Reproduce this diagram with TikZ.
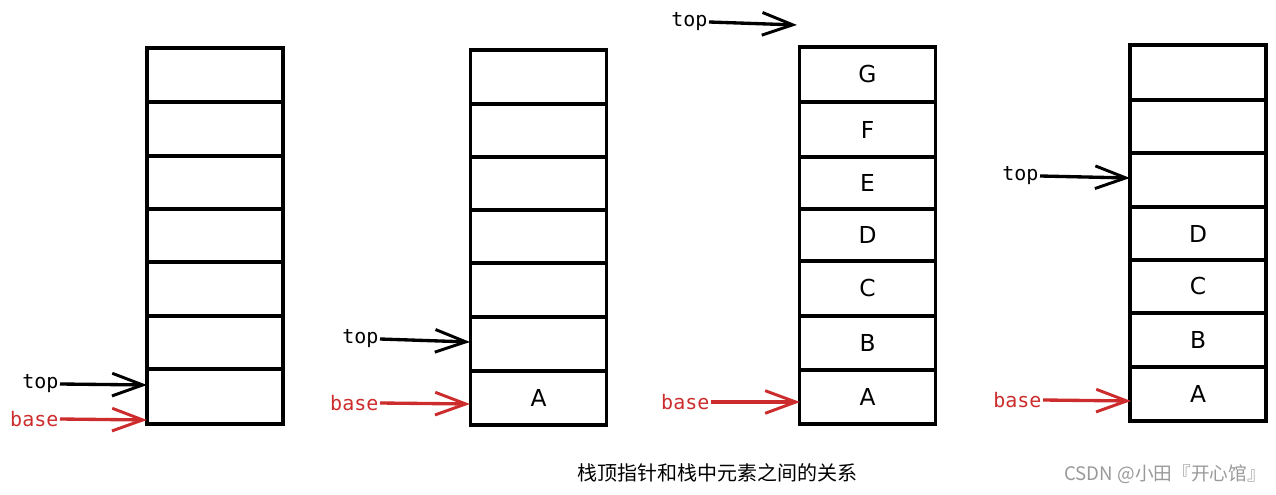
\documentclass[tikz,border=0pt]{standalone}
\usepackage{fontspec}
\usetikzlibrary{arrows.meta}
\newfontfamily\monof{DejaVu Sans Mono}
\newfontfamily\letf{DejaVu Sans}
\newfontfamily\cjkf{Noto Sans CJK SC}
\definecolor{basered}{RGB}{204,44,44}
\tikzset{
  cell/.style={draw=black, line width=2.8pt, inner sep=0pt, minimum width=102pt, font=\letf\fontsize{17.5}{20}\selectfont},
  ptrlabel/.style={anchor=east, inner sep=1pt, font=\monof\fontsize{15}{17}\selectfont},
  ptr/.style={line width=2.5pt, -{Straight Barb[length=23pt, width=17pt, line width=2.2pt]}},
  topptr/.style={ptr, black},
  baseptr/.style={ptr, basered},
}
\newcommand\stackcell[6]{%
  \node[cell, minimum height={(#5-#4)*0.75pt}] (#1) at (#3,{(#4+#5)/2}) {#6};}
\begin{document}
\begin{tikzpicture}[x=0.75pt, y=-0.75pt]
\useasboundingbox (0,0) rectangle (1276,495);
% stack 1
\stackcell{sa1}{}{215}{48}{102}{}
\stackcell{sa2}{}{215}{102}{156}{}
\stackcell{sa3}{}{215}{156}{209}{}
\stackcell{sa4}{}{215}{209}{262}{}
\stackcell{sa5}{}{215}{262}{316}{}
\stackcell{sa6}{}{215}{316}{369}{}
\stackcell{sa7}{}{215}{369}{424}{}
% stack 2
\stackcell{sb1}{}{538.5}{50}{104}{}
\stackcell{sb2}{}{538.5}{104}{157}{}
\stackcell{sb3}{}{538.5}{157}{210}{}
\stackcell{sb4}{}{538.5}{210}{263}{}
\stackcell{sb5}{}{538.5}{263}{317}{}
\stackcell{sb6}{}{538.5}{317}{371}{}
\stackcell{sb7}{}{538.5}{371}{425}{A}
% stack 3
\stackcell{sc1}{}{867.5}{47}{102}{G}
\stackcell{sc2}{}{867.5}{102}{157}{F}
\stackcell{sc3}{}{867.5}{157}{209}{E}
\stackcell{sc4}{}{867.5}{209}{261}{D}
\stackcell{sc5}{}{867.5}{261}{316}{C}
\stackcell{sc6}{}{867.5}{316}{370}{B}
\stackcell{sc7}{}{867.5}{370}{424}{A}
% stack 4
\stackcell{sd1}{}{1198}{45}{100}{}
\stackcell{sd2}{}{1198}{100}{153}{}
\stackcell{sd3}{}{1198}{153}{207}{}
\stackcell{sd4}{}{1198}{207}{260}{D}
\stackcell{sd5}{}{1198}{260}{313}{C}
\stackcell{sd6}{}{1198}{313}{367}{B}
\stackcell{sd7}{}{1198}{367}{421}{A}
% pointer labels
\node[ptrlabel] (ta) at (60,384) {top};
\node[ptrlabel, text=basered] (ba) at (60,419) {base};
\node[ptrlabel] (tb) at (380,339) {top};
\node[ptrlabel, text=basered] (bb) at (380,403) {base};
\node[ptrlabel] (tc) at (709,22) {top};
\node[ptrlabel, text=basered] (bc) at (711,402) {base};
\node[ptrlabel] (td) at (1040,176) {top};
\node[ptrlabel, text=basered] (bd) at (1043,400) {base};
% pointer targets
\coordinate (tae) at (147,385);
\coordinate (bae) at (147,420);
\coordinate (tbe) at (470,342);
\coordinate (bbe) at (470,404);
\coordinate (tce) at (797,25);
\coordinate (bce) at (800,402);
\coordinate (tde) at (1130,178);
\coordinate (bde) at (1131,401);
\draw[topptr] (ta.east) -- (tae);
\draw[baseptr] (ba.east) -- (bae);
\draw[topptr] (tb.east) -- (tbe);
\draw[baseptr] (bb.east) -- (bbe);
\draw[topptr] (tc.east) -- (tce);
\draw[baseptr] (bc.east) -- (bce);
\draw[topptr] (td.east) -- (tde);
\draw[baseptr] (bd.east) -- (bde);
% caption and watermark
\node[font=\cjkf\fontsize{15}{18}\selectfont, inner sep=0pt] (cap) at (717,473) {栈顶指针和栈中元素之间的关系};
\node[font=\cjkf\fontsize{14}{16}\selectfont, text=black!40, anchor=east, inner sep=0pt] (wm) at (1266,474) {CSDN @小田『开心馆』};
\end{tikzpicture}
\end{document}
